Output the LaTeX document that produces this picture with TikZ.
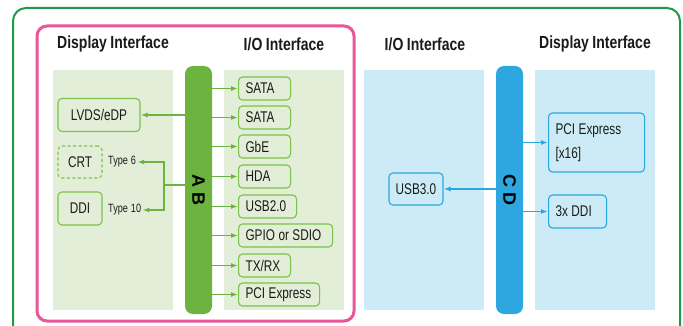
\documentclass[tikz,border=0pt]{standalone}
\usepackage{fontspec}
\setmainfont{Liberation Sans}
\newfontfamily\condfont[FakeStretch=0.76]{Liberation Sans}
\newfontfamily\headfont[FakeStretch=0.8]{Liberation Sans}
\usetikzlibrary{arrows.meta}
\newcommand{\nsp}{\hspace{3.5pt}}
\definecolor{outergreen}{HTML}{1E9A4B}
\definecolor{pinkc}{HTML}{E8579A}
\definecolor{bargreen}{HTML}{6DB33F}
\definecolor{panelgreen}{HTML}{E2EED8}
\definecolor{gborder}{HTML}{7CC24A}
\definecolor{barblue}{HTML}{2EA7E0}
\definecolor{panelblue}{HTML}{CDEBF6}
\definecolor{bborder}{HTML}{29A8E0}
\definecolor{txt}{HTML}{1A1A1A}
\tikzset{
  boxfont/.style={font=\condfont\fontsize{15.5}{24}\selectfont},
  gbox/.style={draw=gborder, line width=1.1pt, rounded corners=4pt, inner xsep=7pt, inner ysep=0pt,
    minimum height=23pt, anchor=west, text=txt, boxfont, text width=#1, align=left,
    execute at begin node={\hyphenpenalty=10000\exhyphenpenalty=10000}},
  bbox/.style={gbox=#1, draw=bborder},
  cbox/.style={draw=gborder, line width=1.1pt, rounded corners=4pt, inner sep=0pt, text=txt, boxfont},
  head/.style={font=\headfont\bfseries\fontsize{17.5}{19}\selectfont, text=txt},
  typelab/.style={font=\condfont\fontsize{12}{13}\selectfont, text=txt, inner sep=1pt},
  garr/.style={draw=bargreen, line width=1.8pt, -{Latex[length=7pt,width=5pt]}},
  gline/.style={draw=bargreen, line width=1.8pt},
  barr/.style={draw=bborder, line width=1.8pt, -{Latex[length=7pt,width=5pt]}},
  barlab/.style={font=\bfseries\fontsize{18}{20}\selectfont, text=black, rotate=-90},
}
\begin{document}
\begin{tikzpicture}[x=1pt,y=-1pt]
\useasboundingbox (0,0) rectangle (683,326);
\clip (0,0) rectangle (683,326);
\fill[white] (0,0) rectangle (683,326);
% outer frame
\draw[outergreen, line width=2pt, rounded corners=13pt] (13,8) rectangle (680,345);
% pink frame
\draw[pinkc, line width=3pt, rounded corners=10pt] (37,26) rectangle (354,321);
% panels
\fill[panelgreen] (53,70) rectangle (173,310);
\fill[panelgreen] (224,70) rectangle (344,310);
\fill[panelblue] (364,70) rectangle (484,310);
\fill[panelblue] (535,70) rectangle (655,310);
% headers
\node[head] (h1) at (113,44) {Display\nsp Interface};
\node[head] (h2) at (284,44) {I/O\nsp Interface};
\node[head] (h3) at (425,44) {I/O\nsp Interface};
\node[head] (h4) at (595,44) {Display\nsp Interface};
% bars
\node[fill=bargreen, rounded corners=8pt, minimum width=27pt, minimum height=248pt, inner sep=0pt] (barAB) at (198.5,190) {};
\node[barlab] (labAB) at (198.5,190) {A B};
\node[fill=barblue, rounded corners=8pt, minimum width=27pt, minimum height=248pt, inner sep=0pt] (barCD) at (509.5,190) {};
\node[barlab] (labCD) at (509.5,190) {C D};
% right I/O boxes (AB)
\node[gbox=38pt] (s1) at (238,88.5) {SATA};
\node[gbox=38pt] (s2) at (238,117.5) {SATA};
\node[gbox=38pt] (gbe) at (238,146.5) {GbE};
\node[gbox=38pt] (hda) at (238,176.5) {HDA};
\node[gbox=44pt] (usb2) at (238,206.5) {USB2.0};
\node[gbox=80pt] (gpio) at (238,235.5) {\mbox{GPIO\nsp or\nsp SDIO}};
\node[gbox=38pt] (txrx) at (238,265.5) {TX/RX};
\node[gbox=67pt] (pcie) at (238,294.5) {\mbox{PCI\nsp Express}};
\foreach \n in {s1,s2,gbe,hda,usb2,gpio,txrx,pcie}
  \draw[garr] (barAB.east |- \n.west) -- (\n.west);
% left display boxes
\node[cbox, minimum width=82pt, minimum height=33pt] (lvds) at (99,115) {LVDS/eDP};
\node[cbox, dash pattern=on 3pt off 2.5pt, minimum width=44pt, minimum height=32pt] (crt) at (80,162) {CRT};
\node[cbox, minimum width=44pt, minimum height=33pt] (ddi) at (80,208.5) {DDI};
\node[typelab, anchor=west] (t6) at (107,162) {Type\hspace{3pt}6};
\node[typelab, anchor=west] (t10) at (107,210) {Type\hspace{3pt}10};
\draw[garr] (barAB.west |- lvds.east) -- (lvds.east);
\coordinate (j) at (164,185);
\draw[gline] (barAB.west |- j) -- (j);
\draw[garr] (j) |- (t6.east);
\draw[garr] (j) |- (t10.east);
% CD side
\node[cbox, draw=bborder, minimum width=54pt, minimum height=32pt] (usb3) at (416,189) {USB3.0};
\node[bbox=82pt, minimum height=59pt] (pcix) at (548,142.5) {\mbox{PCI\nsp Express}\\{[x16]}};
\node[bbox=44pt, minimum height=33pt] (ddi3) at (548,211.5) {\mbox{3x\nsp DDI}};
\draw[barr] (barCD.west |- usb3.east) -- (usb3.east);
\draw[barr] (barCD.east |- pcix.west) -- (pcix.west);
\draw[barr] (barCD.east |- ddi3.west) -- (ddi3.west);
\end{tikzpicture}
\end{document}
